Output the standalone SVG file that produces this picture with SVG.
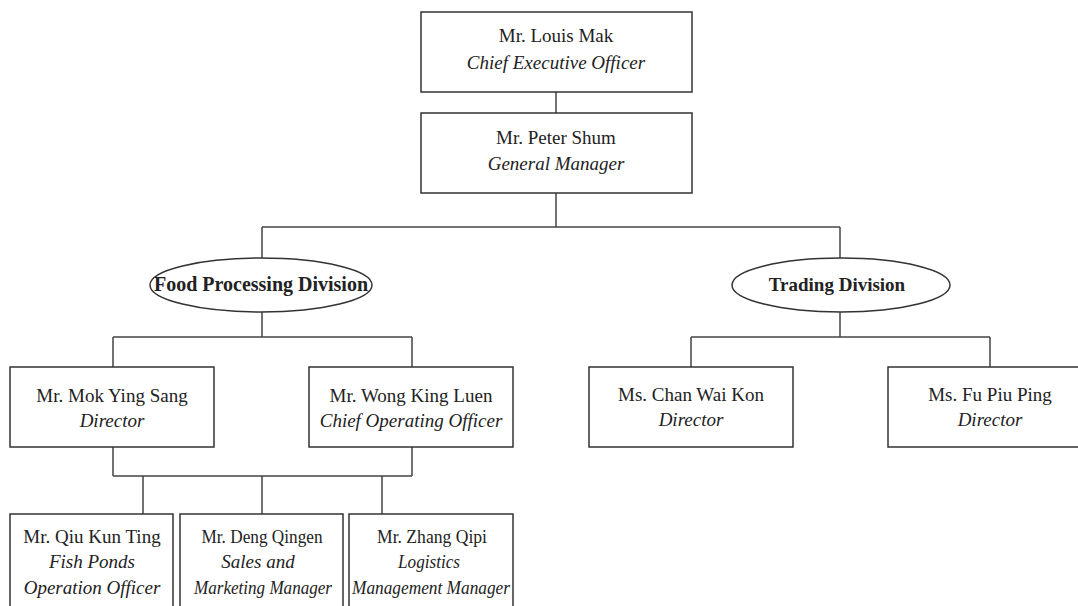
<svg xmlns="http://www.w3.org/2000/svg" width="1078" height="606" viewBox="0 0 1078 606">
<style>
.box{fill:#fff;stroke:#333;stroke-width:1.5}
.con{fill:none;stroke:#444;stroke-width:1.5}
text{font-family:"Liberation Serif","Times New Roman",serif;font-size:19px;fill:#222;text-anchor:middle}
.t{font-style:italic}
.d{font-weight:bold}
</style>
<rect width="1078" height="606" fill="#fff"/>
<g id="connectors">
<path class="con" d="M556 92V113"/>
<path class="con" d="M556 193V227M262 227H840M262 227V258M840 227V258"/>
<path class="con" d="M262 312V337M113 337H412M113 337V367M412 337V367"/>
<path class="con" d="M840 311V337M691 337H990M691 337V367M990 337V367"/>
<path class="con" d="M113 447V476M412 447V476M113 476H412M143 476V514M262 476V514M382 476V514"/>
</g>
<g id="ceo">
<rect class="box" x="421" y="12" width="271" height="80"/>
<text x="556" y="42">Mr. Louis Mak</text>
<text class="t" x="556" y="69">Chief Executive Officer</text>
</g>
<g id="gm">
<rect class="box" x="421" y="113" width="271" height="80"/>
<text x="556" y="144">Mr. Peter Shum</text>
<text class="t" x="556" y="170">General Manager</text>
</g>
<g id="food">
<ellipse class="box" cx="261" cy="285" rx="111" ry="27"/>
<text class="d" x="261" y="291" style="font-size:20px">Food Processing Division</text>
</g>
<g id="trading">
<ellipse class="box" cx="841" cy="285" rx="109" ry="27"/>
<text class="d" x="837" y="291">Trading Division</text>
</g>
<g id="mok">
<rect class="box" x="10" y="367" width="204" height="80"/>
<text x="112" y="402">Mr. Mok Ying Sang</text>
<text class="t" x="112" y="427">Director</text>
</g>
<g id="wong">
<rect class="box" x="309" y="367" width="204" height="80"/>
<text x="411" y="402">Mr. Wong King Luen</text>
<text class="t" x="411" y="427">Chief Operating Officer</text>
</g>
<g id="chan">
<rect class="box" x="589" y="367" width="204" height="80"/>
<text x="691" y="401">Ms. Chan Wai Kon</text>
<text class="t" x="691" y="426">Director</text>
</g>
<g id="fu">
<rect class="box" x="888" y="367" width="204" height="80"/>
<text x="990" y="401">Ms. Fu Piu Ping</text>
<text class="t" x="990" y="426">Director</text>
</g>
<g id="qiu">
<rect class="box" x="10" y="514" width="163" height="100"/>
<text x="92" y="543">Mr. Qiu Kun Ting</text>
<text class="t" x="92" y="568">Fish Ponds</text>
<text class="t" x="92" y="594">Operation Officer</text>
</g>
<g id="deng">
<rect class="box" x="180" y="514" width="163" height="100"/>
<text x="262" y="543" textLength="121" lengthAdjust="spacingAndGlyphs">Mr. Deng Qingen</text>
<text class="t" x="258" y="568">Sales and</text>
<text class="t" x="263" y="594" textLength="138" lengthAdjust="spacingAndGlyphs">Marketing Manager</text>
</g>
<g id="zhang">
<rect class="box" x="349" y="514" width="164" height="100"/>
<text x="432" y="543" textLength="110" lengthAdjust="spacingAndGlyphs">Mr. Zhang Qipi</text>
<text class="t" x="429" y="568" textLength="62" lengthAdjust="spacingAndGlyphs">Logistics</text>
<text class="t" x="431" y="594" textLength="158" lengthAdjust="spacingAndGlyphs">Management Manager</text>
</g>
</svg>
